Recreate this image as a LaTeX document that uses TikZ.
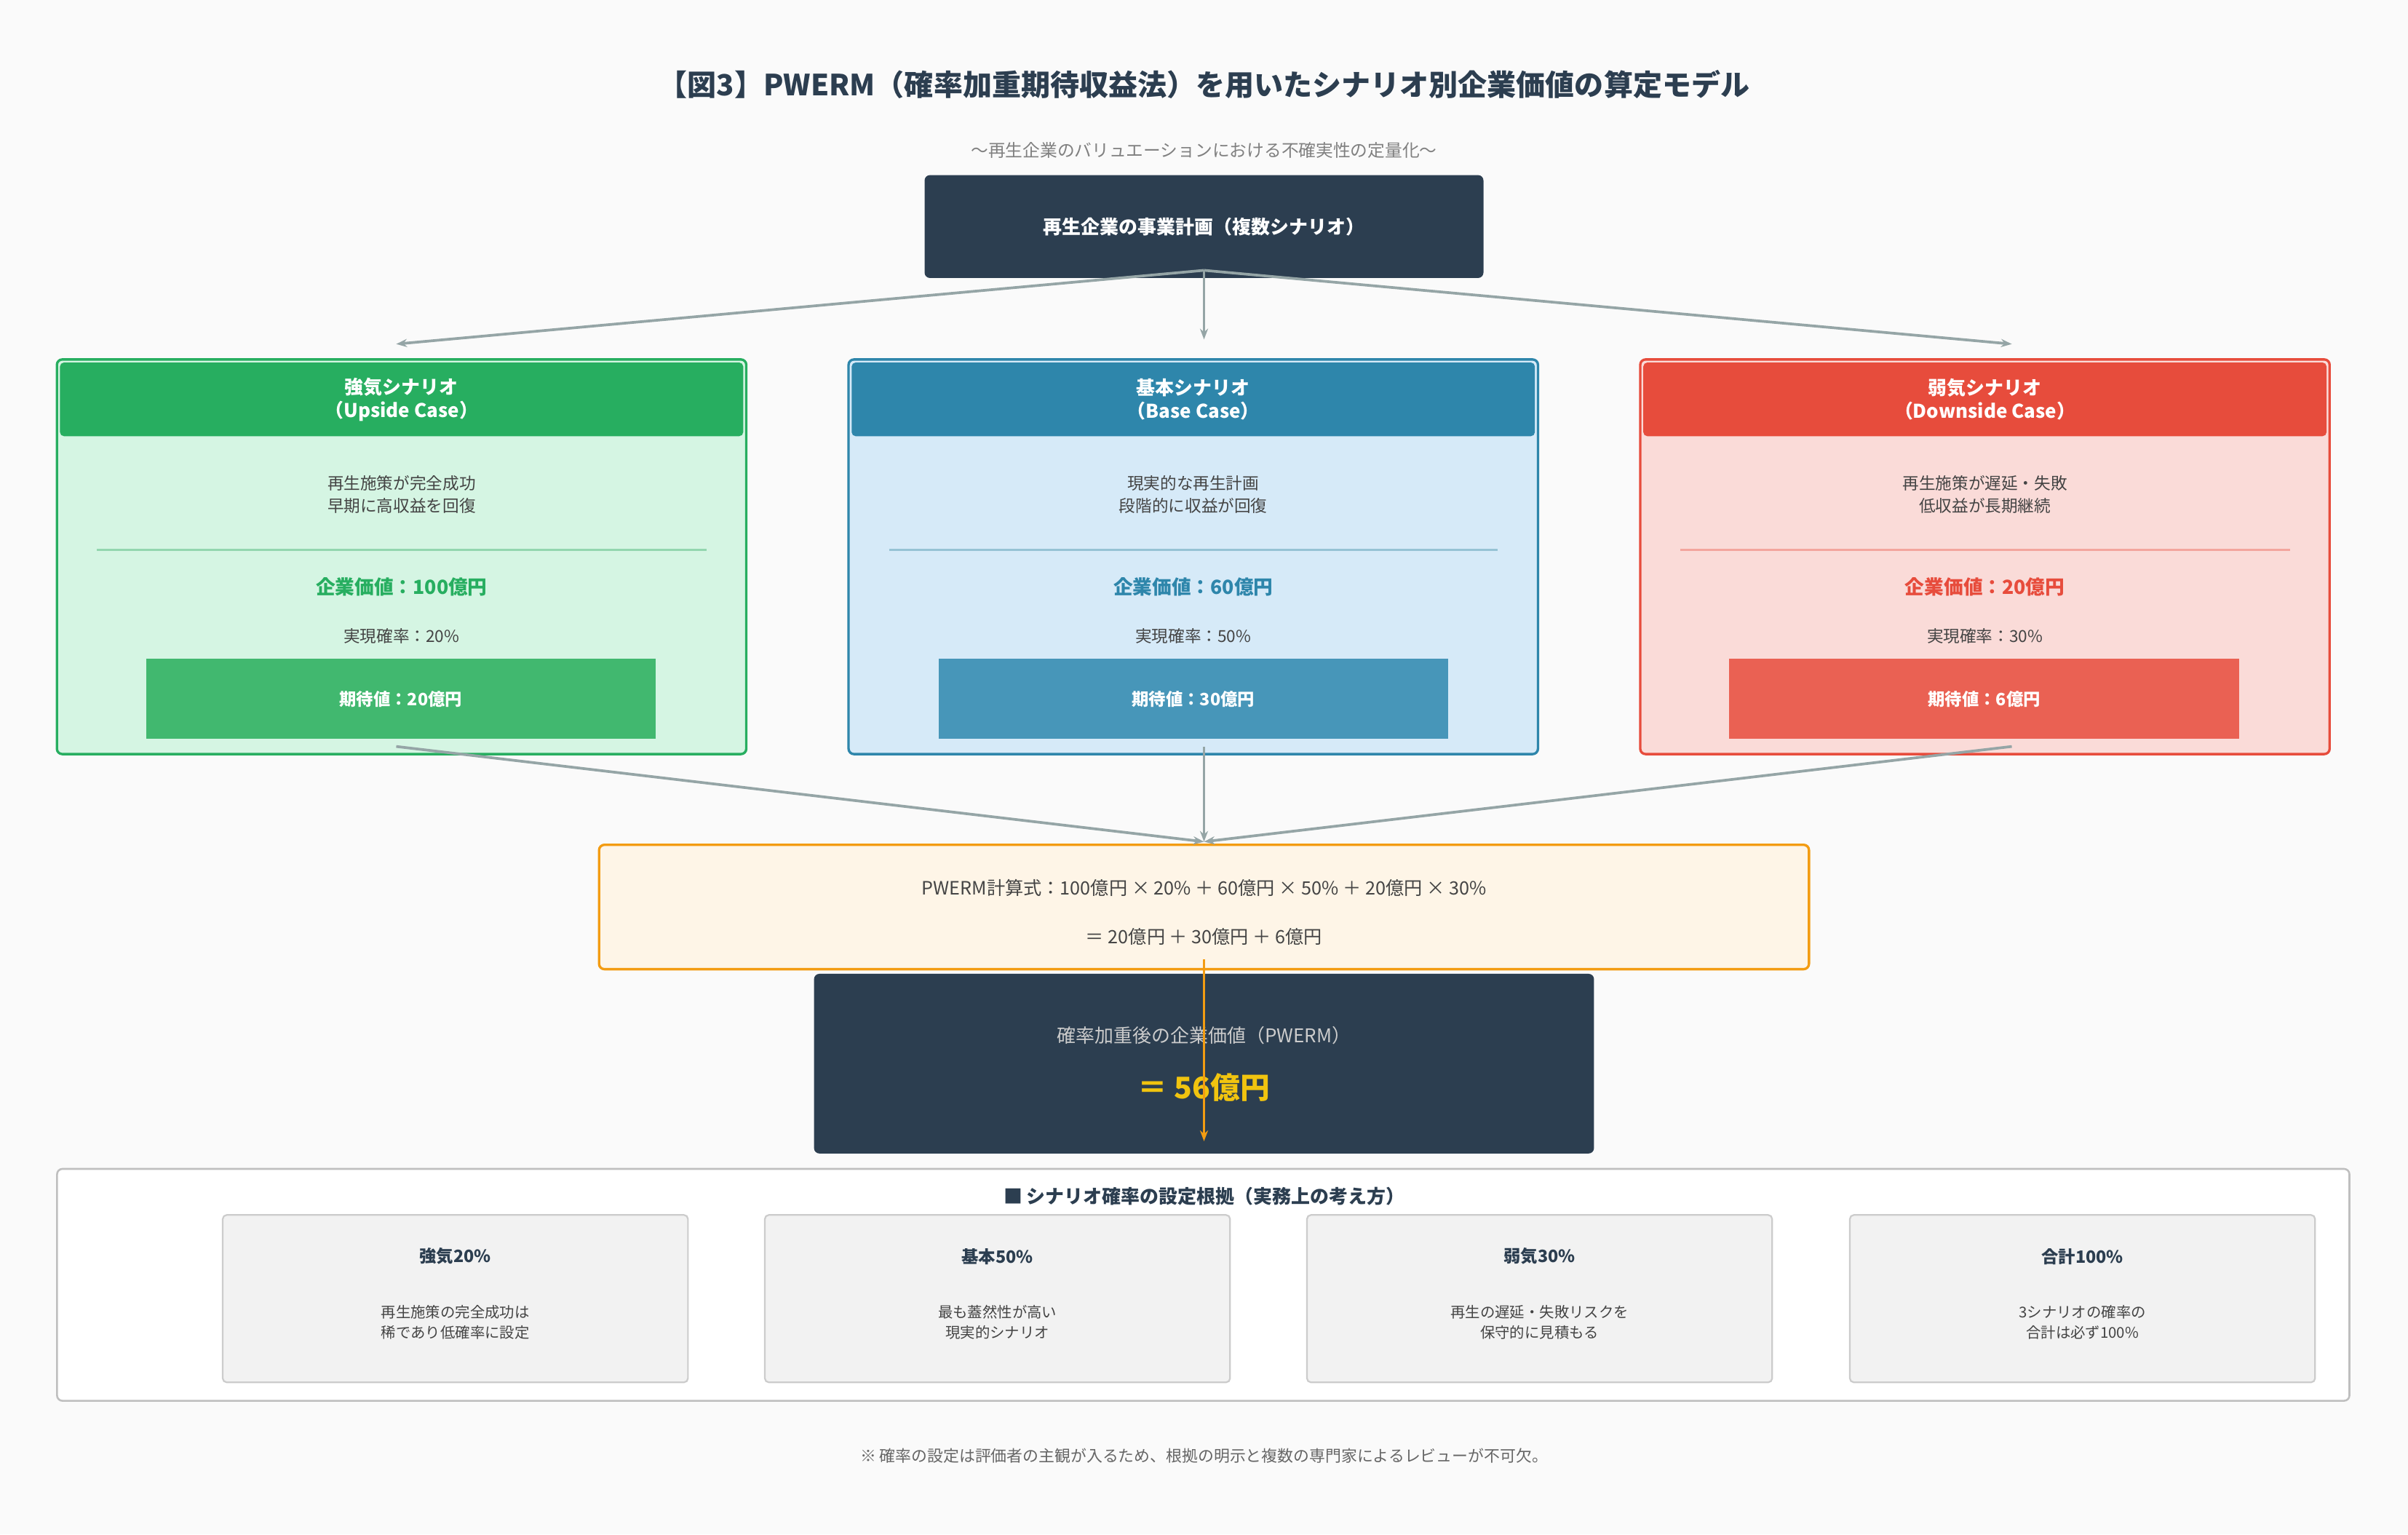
\documentclass[tikz,border=0pt]{standalone}
\usepackage{fontspec}
\setmainfont{Noto Sans CJK JP}
\usetikzlibrary{arrows.meta}
\definecolor{dark}{HTML}{2C3E50}
\definecolor{conn}{HTML}{95A5A6}
\definecolor{upc}{HTML}{27AE60}\definecolor{upf}{HTML}{D5F5E3}\definecolor{upi}{HTML}{41B86F}
\definecolor{basec}{HTML}{2E86AB}\definecolor{basef}{HTML}{D6EAF8}\definecolor{basei}{HTML}{4796B9}
\definecolor{downc}{HTML}{E74C3C}\definecolor{downf}{HTML}{FADBD8}\definecolor{downi}{HTML}{EA6153}
\definecolor{orng}{HTML}{F39C12}\definecolor{gold}{HTML}{F1C40F}
\definecolor{txt}{HTML}{444444}
\tikzset{
  box/.style={rounded corners=2pt, line width=0.9pt, inner sep=0pt},
  head/.style={rounded corners=1.5pt, inner sep=0pt, minimum width=8.9cm, minimum height=0.96cm, text=white, font=\fontsize{7}{8.6}\selectfont\bfseries, align=center},
  body/.style={text=txt, font=\fontsize{6.1}{8.2}\selectfont, align=center},
  inner/.style={inner sep=0pt, minimum width=6.64cm, minimum height=1.04cm, text=white, font=\fontsize{6.3}{7}\selectfont\bfseries},
  card/.style={rounded corners=1.5pt, draw=black!20, fill=black!5, line width=0.6pt, minimum width=6.06cm, minimum height=2.18cm},
  arr/.style={-{Stealth[length=4pt]}, conn, line width=1pt},
}
\begin{document}
\begin{tikzpicture}[x=0.02cm, y=-0.02cm]
  \useasboundingbox[fill=black!2] (0,0) rectangle (1568,999);

  % title
  \node (title) at (784,55) {\fontsize{10.8}{12}\selectfont\bfseries\color{dark}【図3】PWERM（確率加重期待収益法）を用いたシナリオ別企業価値の算定モデル};
  \node (sub) at (784,98) {\fontsize{6.4}{7}\selectfont\color{black!50}〜再生企業のバリュエーションにおける不確実性の定量化〜};
  \node[box, fill=dark, minimum width=7.28cm, minimum height=1.34cm, text=white, font=\fontsize{7}{8}\selectfont\bfseries] (plan) at (784,147.5) {再生企業の事業計画（複数シナリオ）};

  % scenarios
  \node[box, draw=upc, fill=upf, minimum width=8.98cm, minimum height=5.14cm] (up) at (261.5,362.5) {};
  \node[head, fill=upc] (uph) at (261.5,260) {強気シナリオ\\（Upside Case）};
  \node[body] (upt) at (261.5,322) {再生施策が完全成功\\早期に高収益を回復};
  \draw[upc!50, line width=0.6pt] (63,358) -- (460,358);
  \node[font=\fontsize{7.2}{8}\selectfont\bfseries, text=upc] (upv) at (261.5,382) {企業価値：100億円};
  \node[body] (upp) at (261.5,414) {実現確率：20\%};
  \node[inner, fill=upi] (upe) at (261,455) {期待値：20億円};

  \node[box, draw=basec, fill=basef, minimum width=8.98cm, minimum height=5.14cm] (base) at (777,362.5) {};
  \node[head, fill=basec] (baseh) at (777,260) {基本シナリオ\\（Base Case）};
  \node[body] (baset) at (777,322) {現実的な再生計画\\段階的に収益が回復};
  \draw[basec!50, line width=0.6pt] (579,358) -- (975,358);
  \node[font=\fontsize{7.2}{8}\selectfont\bfseries, text=basec] (basev) at (777,382) {企業価値：60億円};
  \node[body] (basep) at (777,414) {実現確率：50\%};
  \node[inner, fill=basei] (basee) at (777,455) {期待値：30億円};

  \node[box, draw=downc, fill=downf, minimum width=8.98cm, minimum height=5.14cm] (down) at (1292.5,362.5) {};
  \node[head, fill=downc] (downh) at (1292.5,260) {弱気シナリオ\\（Downside Case）};
  \node[body] (downt) at (1292.5,322) {再生施策が遅延・失敗\\低収益が長期継続};
  \draw[downc!50, line width=0.6pt] (1094,358) -- (1491,358);
  \node[font=\fontsize{7.2}{8}\selectfont\bfseries, text=downc] (downv) at (1292.5,382) {企業価値：20億円};
  \node[body] (downp) at (1292.5,414) {実現確率：30\%};
  \node[inner, fill=downi] (downe) at (1292,455) {期待値：6億円};

  % formula and result
  \node[box, draw=orng, fill=orng!10, minimum width=15.76cm, minimum height=1.62cm] (formula) at (784,590.5) {};
  \node[body, font=\fontsize{6.8}{8}\selectfont] (f1) at (784,578) {PWERM計算式：100億円 × 20\% ＋ 60億円 × 50\% ＋ 20億円 × 30\%};
  \node[body, font=\fontsize{6.8}{8}\selectfont] (f2) at (784,610) {＝ 20億円 ＋ 30億円 ＋ 6億円};
  \node[box, fill=dark, minimum width=10.16cm, minimum height=2.34cm] (result) at (784,692.5) {};
  \node[font=\fontsize{7}{8}\selectfont, text=black!20] (r1) at (784,674) {確率加重後の企業価値（PWERM）};
  \node[font=\fontsize{11}{12}\selectfont\bfseries, text=gold] (r2) at (784,708) {＝ 56億円};

  % connector ends
  \coordinate (top) at (784,176);
  \coordinate (toup) at (258,224);
  \coordinate (tobase) at (784,221);
  \coordinate (todown) at (1310,224);
  \coordinate (fromup) at (258,486);
  \coordinate (frombase) at (784,486);
  \coordinate (fromdown) at (1310,486);
  \coordinate (join) at (784,548);

  % connectors
  \draw[arr] (top) -- (toup);
  \draw[arr] (top) -- (tobase);
  \draw[arr] (top) -- (todown);
  \draw[arr] (fromup) -- (join);
  \draw[arr] (frombase) -- (join);
  \draw[arr] (fromdown) -- (join);
  \draw[-{Stealth[length=4pt]}, orng, line width=1pt] ([yshift=4pt]formula.south) -- ([yshift=5pt]result.south);

  % basis panel
  \node[box, draw=black!25, fill=white, line width=0.7pt, minimum width=29.86cm, minimum height=3.02cm] (panel) at (783.5,836.5) {};
  \node[font=\fontsize{7}{8}\selectfont\bfseries, text=dark] (ptitle) at (784,779) {■ シナリオ確率の設定根拠（実務上の考え方）};
  \node[card] (c1) at (296.5,845.5) {};
  \node[card] (c2) at (649.5,845.5) {};
  \node[card] (c3) at (1002.5,845.5) {};
  \node[card] (c4) at (1356,845.5) {};
  \node[font=\fontsize{6.3}{7}\selectfont\bfseries, text=dark] at (296.5,818) {強気20\%};
  \node[font=\fontsize{6.3}{7}\selectfont\bfseries, text=dark] at (649.5,818) {基本50\%};
  \node[font=\fontsize{6.3}{7}\selectfont\bfseries, text=dark] at (1002.5,818) {弱気30\%};
  \node[font=\fontsize{6.3}{7}\selectfont\bfseries, text=dark] at (1356,818) {合計100\%};
  \node[body, font=\fontsize{5.5}{7.6}\selectfont] at (296.5,861) {再生施策の完全成功は\\稀であり低確率に設定};
  \node[body, font=\fontsize{5.5}{7.6}\selectfont] at (649.5,861) {最も蓋然性が高い\\現実的シナリオ};
  \node[body, font=\fontsize{5.5}{7.6}\selectfont] at (1002.5,861) {再生の遅延・失敗リスクを\\保守的に見積もる};
  \node[body, font=\fontsize{5.5}{7.6}\selectfont] at (1356,861) {3シナリオの確率の\\合計は必ず100\%};

  \node[font=\fontsize{5.9}{7}\selectfont, text=black!60] (note) at (784,948) {※ 確率の設定は評価者の主観が入るため、根拠の明示と複数の専門家によるレビューが不可欠。};
\end{tikzpicture}
\end{document}
